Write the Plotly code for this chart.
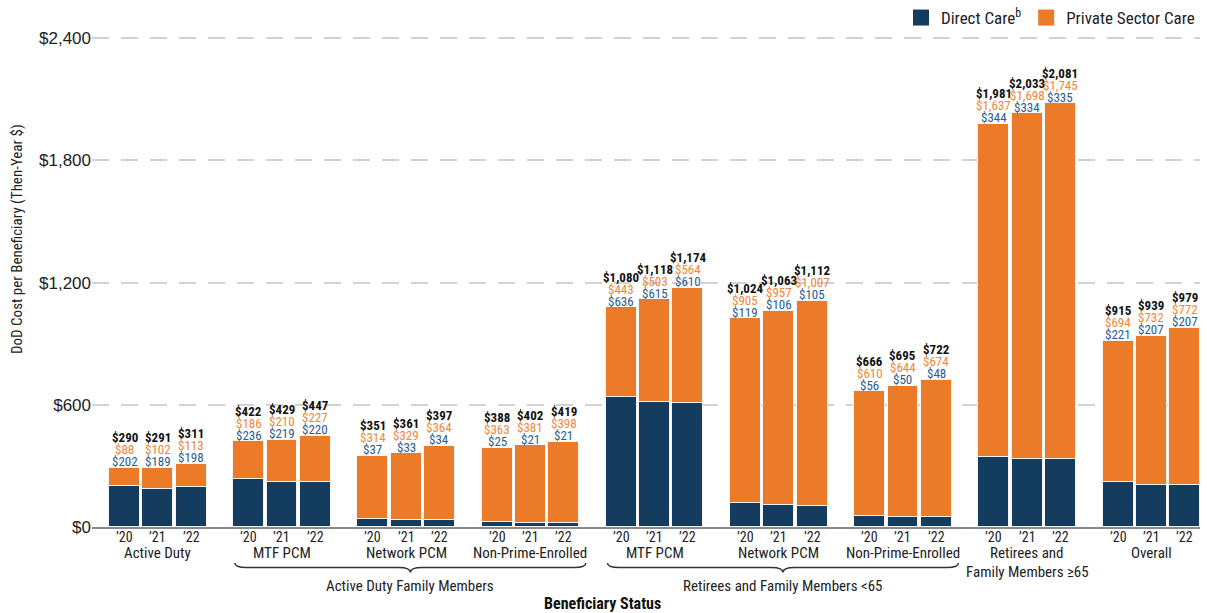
import plotly.graph_objects as go

# ---------------- data ----------------
years = ["’20", "’21", "’22"]
group_labels = ["Active Duty", "MTF PCM", "Network PCM", "Non-Prime-Enrolled",
                "MTF PCM", "Network PCM", "Non-Prime-Enrolled",
                "Retirees and|Family Members ≥65", "Overall"]
super_groups = [("Active Duty Family Members", 1, 3),
                ("Retirees and Family Members <65", 4, 6)]

direct_care = [202, 189, 198, 236, 219, 220, 37, 33, 34, 25, 21, 21,
               636, 615, 610, 119, 106, 105, 56, 50, 48,
               344, 334, 335, 221, 207, 207]
private_care = [88, 102, 113, 186, 210, 227, 314, 329, 364, 363, 381, 398,
                443, 503, 564, 905, 957, 1007, 610, 644, 674,
                1637, 1698, 1745, 694, 732, 772]
total_cost = [290, 291, 311, 422, 429, 447, 351, 361, 397, 388, 402, 419,
              1080, 1118, 1174, 1024, 1063, 1112, 666, 695, 722,
              1981, 2033, 2081, 915, 939, 979]

y_ticks = [0, 600, 1200, 1800, 2400]

# ---------------- style ----------------
NAVY = "#143c5f"
ORANGE = "#ec7b29"
ORANGE_TXT = "#f08838"
BLUE_TXT = "#2b5c8e"
TXT = "#222222"
NARROW = "Roboto Condensed, DejaVu Sans Condensed, sans-serif"
REG = "Liberation Sans, Arial, sans-serif"

GROUP_STEP = 3.73
BAR_W = 0.93

W, H = 1207, 613
ML, MR, MT, MB = 92, 7, 28, 86
PLOT_H = H - MT - MB
PLOT_W = W - ML - MR


def py(px):
    """pixel row -> paper y"""
    return (H - MB - px) / PLOT_H


def px_x(px):
    return (px - ML) / PLOT_W


n_groups = len(group_labels)
xs = [g * GROUP_STEP + j for g in range(n_groups) for j in range(3)]
tick_text = [years[j] for g in range(n_groups) for j in range(3)]

fig = go.Figure()
fig.add_trace(go.Bar(x=xs, y=direct_care, width=BAR_W,
                     marker=dict(color=NAVY, line=dict(color="#f4f4f4", width=1.5)),
                     showlegend=False, hoverinfo="skip"))
fig.add_trace(go.Bar(x=xs, y=private_care, width=BAR_W,
                     marker=dict(color=ORANGE, line=dict(color="#f4f4f4", width=1.5)),
                     showlegend=False, hoverinfo="skip"))
# legend entries
fig.add_trace(go.Scatter(x=[None], y=[None], mode="markers", name="Direct Care<sup>b</sup>",
                         marker=dict(symbol="square", size=16, color=NAVY)))
fig.add_trace(go.Scatter(x=[None], y=[None], mode="markers", name="Private Sector Care",
                         marker=dict(symbol="square", size=16, color=ORANGE)))

ann = []
for x, d, p, t, yr in zip(xs, direct_care, private_care, total_cost, tick_text):
    top = d + p
    ann.append(dict(x=x, y=top, xref="x", yref="y", text=f"${d:,}", showarrow=False,
                    yanchor="middle", yshift=6, borderpad=0,
                    font=dict(family=NARROW, size=13, color=BLUE_TXT)))
    ann.append(dict(x=x, y=top, xref="x", yref="y", text=f"${p:,}", showarrow=False,
                    yanchor="middle", yshift=18, borderpad=0,
                    font=dict(family=NARROW, size=13, color=ORANGE_TXT)))
    ann.append(dict(x=x, y=top, xref="x", yref="y", text=f"<b>${t:,}</b>", showarrow=False,
                    yanchor="middle", yshift=30, borderpad=0,
                    font=dict(family=NARROW, size=13, color="#111111")))
    # year tick label
    ann.append(dict(x=x, y=py(537), xref="x", yref="paper", text=yr, showarrow=False,
                    yanchor="middle", borderpad=0, font=dict(family=NARROW, size=14, color=TXT)))

# group labels
for g, lab in enumerate(group_labels):
    cx = g * GROUP_STEP + 1
    for k, line in enumerate(lab.split("|")):
        ann.append(dict(x=cx, y=py(553 + 19 * k), xref="x", yref="paper", text=line, showarrow=False,
                        yanchor="middle", borderpad=0, font=dict(family=NARROW, size=15, color=TXT)))

shapes = []
for name, g0, g1 in super_groups:
    x0 = g0 * GROUP_STEP - BAR_W / 2 + 0.05
    x1 = g1 * GROUP_STEP + 2 + BAR_W / 2 + 0.2
    xm = (x0 + x1) / 2
    yt, ym, yb = py(563), py(567.5), py(572.5)
    r = 0.35
    path = (f"M {x0},{yt} Q {x0},{ym} {x0 + r},{ym} L {xm - r},{ym} "
            f"Q {xm},{ym} {xm},{yb} Q {xm},{ym} {xm + r},{ym} L {x1 - r},{ym} "
            f"Q {x1},{ym} {x1},{yt}")
    shapes.append(dict(type="path", path=path, xref="x", yref="paper",
                       line=dict(color="#333333", width=1.5)))
    ann.append(dict(x=xm, y=py(586), xref="x", yref="paper", text=name, showarrow=False,
                    yanchor="middle", borderpad=0, font=dict(family=NARROW, size=15, color=TXT)))

ann.append(dict(x=px_x(602), y=py(603), xref="paper", yref="paper", text="<b>Beneficiary Status</b>",
                showarrow=False, yanchor="middle", borderpad=0,
                font=dict(family=NARROW, size=16, color="#111111")))
ann.append(dict(x=px_x(17), y=py(239), xref="paper", yref="paper",
                text="DoD Cost per Beneficiary (Then-Year $)", textangle=-90, showarrow=False,
                xanchor="center", yanchor="middle", font=dict(family=NARROW, size=15, color=TXT)))

fig.update_layout(
    width=W, height=H,
    margin=dict(l=ML, r=MR, t=MT, b=MB, autoexpand=False),
    barmode="stack", bargap=0,
    plot_bgcolor="white", paper_bgcolor="white",
    annotations=ann, shapes=shapes,
    legend=dict(orientation="h", x=1, xanchor="right", yref="container", y=1 - 18 / H, yanchor="middle",
                traceorder="normal",
                font=dict(family=NARROW, size=17, color=TXT), itemwidth=30,
                bgcolor="rgba(0,0,0,0)"),
    xaxis=dict(range=[-0.976, 32.3], tickvals=xs, showticklabels=False, showgrid=False,
               showline=True, linecolor="#8a8a8a", linewidth=2, ticks="", zeroline=False),
    yaxis=dict(range=[0, 2450], tickvals=y_ticks, ticktext=[f"${v:,}" for v in y_ticks],
               showgrid=True, gridcolor="#d2d2d2", gridwidth=2, griddash="17px,12px",
               zeroline=False, showline=False, ticks="",
               tickfont=dict(family=REG, size=17, color=TXT)),
)

fig.write_html("out.html")
